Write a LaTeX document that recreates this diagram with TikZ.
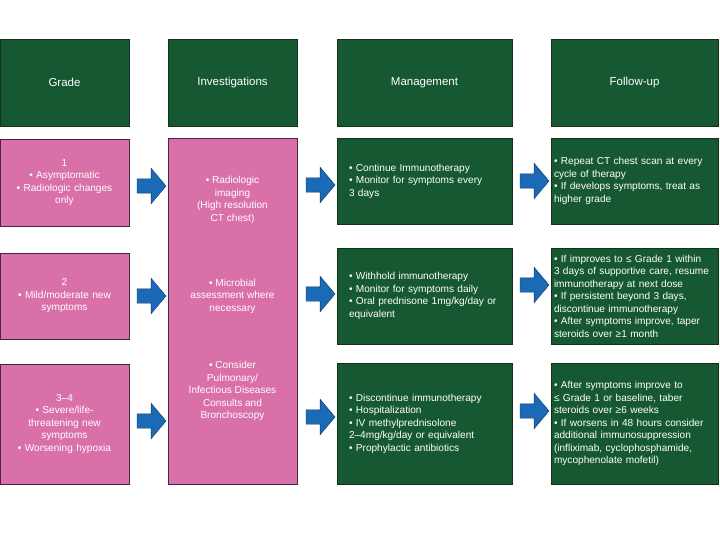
\documentclass[tikz,border=0pt]{standalone}
\usepackage{fontspec}
\setmainfont{Liberation Sans}
\usetikzlibrary{shapes.arrows}

\definecolor{boxGreen}{RGB}{22,88,50}
\definecolor{lineGreen}{RGB}{18,48,30}
\definecolor{boxPink}{RGB}{218,112,170}
\definecolor{linePink}{RGB}{72,38,62}
\definecolor{arrowBlue}{RGB}{26,106,182}
\definecolor{lineBlue}{RGB}{22,52,100}

\newcommand{\bodyfont}{\fontsize{10.1}{12.5}\selectfont}

\tikzstyle{headNode} = [rectangle, fill=boxGreen, draw=lineGreen, text=white, minimum height=87pt, inner sep=0pt, outer sep=0pt, font=\fontsize{11.5}{14}\selectfont]
\tikzstyle{gradeNode} = [rectangle, fill=boxPink, draw=linePink, text=white, minimum width=129pt, text width=125pt, inner sep=0pt, align=center, font=\bodyfont]
\tikzstyle{mgmtNode} = [rectangle, fill=boxGreen, draw=lineGreen, text=white, text width=151pt, inner xsep=12pt, inner ysep=0pt, align=left, font=\bodyfont]
\tikzstyle{followNode} = [rectangle, fill=boxGreen, draw=lineGreen, text=white, text width=161pt, inner xsep=3pt, inner ysep=0pt, align=left, font=\bodyfont]
\tikzstyle{invText} = [text=white, align=center, inner sep=0pt, font=\bodyfont]
\tikzstyle{blockArrow} = [single arrow, fill=arrowBlue, draw=lineBlue, minimum height=29pt, minimum width=0pt, inner xsep=0pt, inner ysep=7pt, single arrow head extend=10.5pt, single arrow tip angle=100]

\begin{document}
\begin{tikzpicture}[x=1pt, y=-1pt]
    \useasboundingbox (0,0) rectangle (720,540);

    % headers
    \node (grade)[headNode, minimum width=129pt] at (64.5,82.5) {Grade};
    \node (investig)[headNode, minimum width=129pt] at (232.5,82.5) {Investigations};
    \node (management)[headNode, minimum width=175pt] at (424.5,82.5) {Management};
    \node (followup)[headNode, minimum width=167pt] at (634.5,82.5) {Follow-up};

    % grades
    \node (gradeA)[gradeNode, minimum height=87pt] at (64.5,182.5) {1\\• Asymptomatic\\• Radiologic changes\\only};
    \node (gradeB)[gradeNode, minimum height=86pt] at (64.5,296) {2\\• Mild/moderate new\\symptoms};
    \node (gradeC)[gradeNode, minimum height=120pt] at (64.5,424) {3–4\\• Severe/life-\\threatening new\\symptoms\\• Worsening hypoxia};

    % investigations
    \node (inv)[gradeNode, minimum height=346pt] at (232.5,311) {};
    \node (invA)[invText] at (232.5,200) {• Radiologic\\imaging\\(High resolution\\CT chest)};
    \node (invB)[invText] at (232.5,296) {• Microbial\\assessment where\\necessary};
    \node (invC)[invText] at (232.5,391) {• Consider\\Pulmonary/\\Infectious Diseases\\Consults and\\Bronchoscopy};

    % management
    \node (mgmtA)[mgmtNode, minimum height=86pt] at (424.5,181) {• Continue Immunotherapy\\• Monitor for symptoms every\\3 days};
    \node (mgmtB)[mgmtNode, minimum height=96pt] at (424.5,296) {• Withhold immunotherapy\\• Monitor for symptoms daily\\• Oral prednisone 1mg/kg/day or\\equivalent};
    \node (mgmtC)[mgmtNode, minimum height=121pt] at (424.5,423.5) {• Discontinue immunotherapy\\• Hospitalization\\• IV methylprednisolone\\2–4mg/kg/day or equivalent\\• Prophylactic antibiotics};

    % follow-up
    \node (followA)[followNode, minimum height=86pt] at (634.5,181) {• Repeat CT chest scan at every\\cycle of therapy\\• If develops symptoms, treat as\\higher grade};
    \node (followB)[followNode, minimum height=96pt] at (634.5,296) {• If improves to ≤ Grade 1 within\\3 days of supportive care, resume\\immunotherapy at next dose\\• If persistent beyond 3 days,\\discontinue immunotherapy\\• After symptoms improve, taper\\steroids over ≥1 month};
    \node (followC)[followNode, minimum height=121pt] at (634.5,423.5) {• After symptoms improve to\\≤ Grade 1 or baseline, taber\\steroids over ≥6 weeks\\• If worsens in 48 hours consider\\additional immunosuppression\\(infliximab, cyclophosphamide,\\mycophenolate mofetil)};

    % arrows
    \node (arrGA)[blockArrow] at (148.5,186) {};
    \node (arrGB)[blockArrow] at (148.5,296) {};
    \node (arrGC)[blockArrow] at (148.5,421) {};
    \node (arrIA)[blockArrow] at (317.5,185) {};
    \node (arrIB)[blockArrow] at (317.5,294) {};
    \node (arrIC)[blockArrow] at (317.5,417) {};
    \node (arrMA)[blockArrow] at (531.5,181) {};
    \node (arrMB)[blockArrow] at (531.5,285) {};
    \node (arrMC)[blockArrow] at (531.5,411) {};

\end{tikzpicture}
\end{document}
